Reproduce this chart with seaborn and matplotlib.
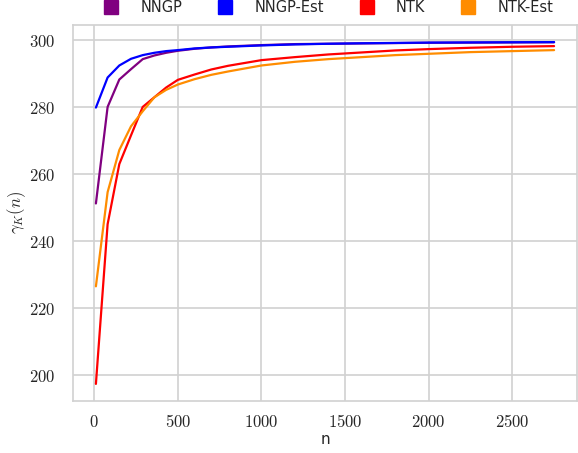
import numpy as np
import pandas as pd
import matplotlib
matplotlib.use("Agg")
import matplotlib.pyplot as plt
from matplotlib.lines import Line2D
from matplotlib.ticker import FuncFormatter
import seaborn as sns

# values
n_vals = [10, 80, 150, 220, 290, 360, 430, 500, 600, 700, 800, 1000,
          1200, 1400, 1600, 1800, 2000, 2250, 2500, 2750]
nngp = [251.2, 280.1, 288.3, 291.4, 294.4, 295.5, 296.3, 296.9, 297.5, 297.9,
        298.2, 298.6, 298.9, 299.0, 299.1, 299.2, 299.3, 299.35, 299.4, 299.45]
nngp_est = [279.9, 288.9, 292.5, 294.5, 295.6, 296.3, 296.8, 297.1, 297.6, 297.9,
            298.1, 298.5, 298.8, 299.0, 299.15, 299.25, 299.35, 299.4, 299.45, 299.5]
ntk = [197.2, 245.0, 263.0, 271.6, 280.1, 283.0, 285.9, 288.2, 289.8, 291.3,
       292.4, 294.1, 295.0, 295.8, 296.4, 297.0, 297.4, 297.8, 298.1, 298.3]
ntk_est = [226.4, 254.6, 267.2, 274.3, 278.8, 283.0, 285.2, 286.8, 288.4, 289.7,
           290.7, 292.5, 293.6, 294.4, 295.0, 295.6, 296.0, 296.5, 296.8, 297.1]

labels = ['NNGP', 'NNGP-Est', 'NTK', 'NTK-Est']
colors = ['#800080', '#0000ff', '#ff0000', '#ff8c00']

df = pd.DataFrame({
    'n': n_vals * 4,
    'gamma': nngp + nngp_est + ntk + ntk_est,
    'method': [m for m in labels for _ in n_vals],
})

sns.set_style("whitegrid", {'grid.color': '.82', 'axes.edgecolor': '.82'})
plt.rcParams['mathtext.fontset'] = 'cm'
plt.rcParams['font.family'] = ['DejaVu Sans']
plt.rcParams['grid.linewidth'] = 1.2
plt.rcParams['axes.linewidth'] = 1.2

fig = plt.figure(figsize=(5.78, 4.53), dpi=100)
ax = fig.add_axes([73 / 578, 1 - 401 / 453, 504 / 578, 376 / 453])

sns.lineplot(data=df, x='n', y='gamma', hue='method', hue_order=labels,
             palette=colors, linewidth=1.6, legend=False, ax=ax)

ax.set_xticks([0, 500, 1000, 1500, 2000, 2500])
ax.set_yticks([200, 220, 240, 260, 280, 300])
fmt = FuncFormatter(lambda v, p: f'${v:g}$')
ax.xaxis.set_major_formatter(fmt)
ax.yaxis.set_major_formatter(fmt)
ax.tick_params(axis='x', labelsize=12, pad=5)
ax.tick_params(axis='y', labelsize=12, pad=9)
ax.set_xlabel('n', fontsize=11, labelpad=1)
ax.set_ylabel(r'$\gamma_K(n)$', fontsize=12, labelpad=1)

handles = [Line2D([], [], marker='s', linestyle='', color=c, markersize=9.5)
           for c in colors]
ax.legend(handles, labels, loc='lower center', bbox_to_anchor=(0.5, 1.0),
          ncol=4, frameon=False, fontsize=10.5, handletextpad=1.0,
          columnspacing=1.95, borderaxespad=0.3)

plt.savefig('out.png', dpi=100)
